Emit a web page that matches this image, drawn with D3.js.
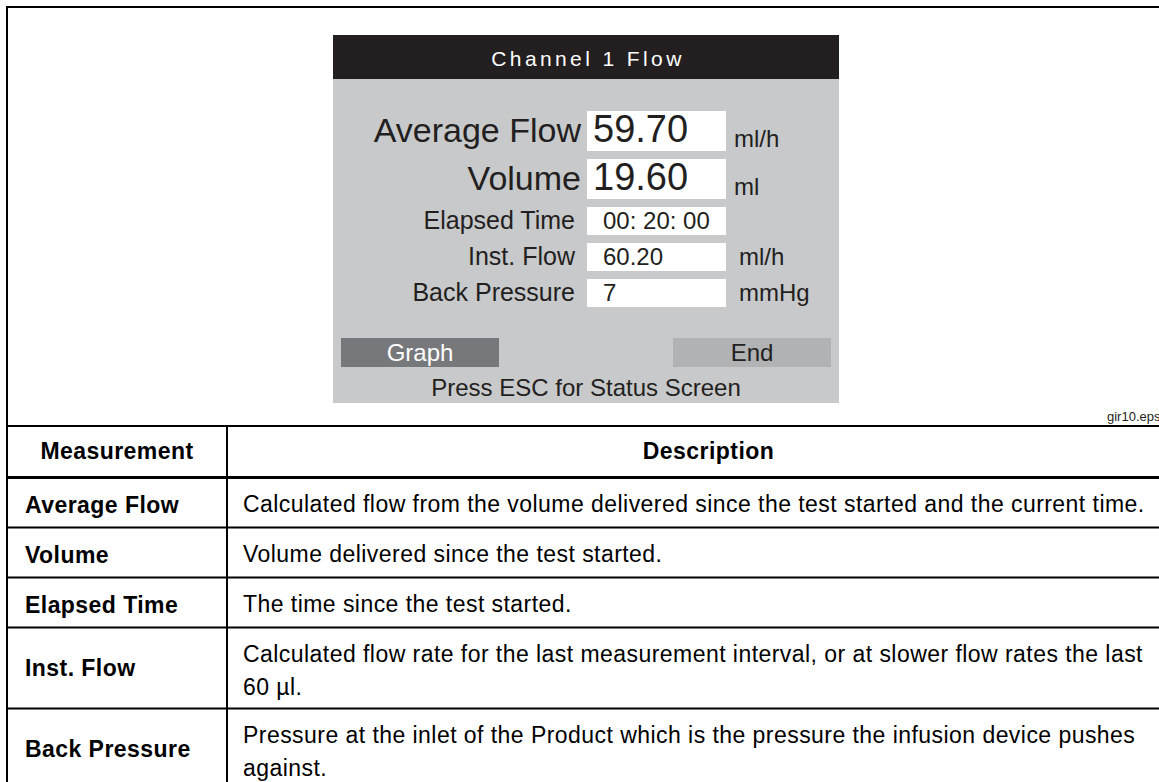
<!DOCTYPE html>
<html>
<head>
<meta charset="utf-8">
<script src="https://cdn.jsdelivr.net/npm/d3@7/dist/d3.min.js"></script>
<style>
  html, body { margin: 0; padding: 0; background: #fff; }
  svg { display: block; font-family: "Liberation Sans", Arial, Helvetica, sans-serif; }
</style>
</head>
<body>
<svg id="chart" width="1159" height="782"></svg>
<script>
// ---------- data ----------
const screenTitle = "Channel 1 Flow";
const fieldLabels = ["Average Flow", "Volume", "Elapsed Time", "Inst. Flow", "Back Pressure"];
const fieldValues = ["59.70", "19.60", "00: 20: 00", "60.20", "7"];
const fieldUnits  = ["ml/h", "ml", "", "ml/h", "mmHg"];
const fieldSizes  = ["big", "big", "small", "small", "small"];
const buttonLabels = ["Graph", "End"];
const footerText = "Press ESC for Status Screen";
const figureTag = "gir10.eps";
const tableHeaders = ["Measurement", "Description"];
const measurements = ["Average Flow", "Volume", "Elapsed Time", "Inst. Flow", "Back Pressure"];
const descriptions = [
  ["Calculated flow from the volume delivered since the test started and the current time."],
  ["Volume delivered since the test started."],
  ["The time since the test started."],
  ["Calculated flow rate for the last measurement interval, or at slower flow rates the last", "60 \u00b5l."],
  ["Pressure at the inlet of the Product which is the pressure the infusion device pushes", "against."]
];

// ---------- drawing ----------
const svg = d3.select("#chart");
const ink = "#231f20";

// outer frame
svg.append("path")
  .attr("d", "M7,800 V7 H1200")
  .attr("fill", "none").attr("stroke", "#000").attr("stroke-width", 2);

// ---- device screen ----
const scr = { x0: 333, x1: 839, y0: 35, y1: 403, headH: 44 };
const sx = d3.scaleLinear().domain([0, 1]).range([scr.x0, scr.x1]);
svg.append("rect").attr("x", scr.x0).attr("y", scr.y0)
  .attr("width", scr.x1 - scr.x0).attr("height", scr.y1 - scr.y0).attr("fill", "#c8c9cb");
svg.append("rect").attr("x", scr.x0).attr("y", scr.y0)
  .attr("width", scr.x1 - scr.x0).attr("height", scr.headH).attr("fill", ink);
svg.append("text").attr("x", sx(0.5) + 2).attr("y", 66)
  .attr("text-anchor", "middle").attr("fill", "#fff")
  .attr("font-size", 21).attr("letter-spacing", 3.4).text(screenTitle);

// field rows
const sizeH = d3.scaleOrdinal().domain(["big", "small"]).range([40, 28]);
const sizeGap = d3.scaleOrdinal().domain(["big", "small"]).range([8, 8]);
let tops = []; let yy = 111;
fieldSizes.forEach(s => { tops.push(yy); yy += sizeH(s) + sizeGap(s); });

const rows = svg.append("g").selectAll("g").data(fieldLabels).join("g");
rows.each(function (lab, i) {
  const g = d3.select(this);
  const big = fieldSizes[i] === "big";
  const top = tops[i], h = sizeH(fieldSizes[i]);
  g.append("rect").attr("x", 587).attr("y", top).attr("width", 139).attr("height", h).attr("fill", "#fff");
  g.append("text").attr("x", big ? 581 : 575).attr("y", big ? top + 31 : top + 22)
    .attr("text-anchor", "end").attr("fill", ink)
    .attr("font-size", big ? 34 : 25).text(lab);
  g.append("text").attr("x", big ? 593 : 603).attr("y", big ? top + 31 : top + 22)
    .attr("fill", ink).attr("font-size", big ? 38 : 24).text(fieldValues[i]);
  if (fieldUnits[i]) {
    g.append("text").attr("x", big ? 734 : 739).attr("y", big ? top + 36 : top + 22)
      .attr("fill", ink).attr("font-size", 24).text(fieldUnits[i]);
  }
});

// buttons
const btnColors = ["#77787b", "#b1b2b4"];
const btnText = ["#fff", ink];
const bx = d3.scalePoint().domain(buttonLabels).range([341, 673]);
const btn = svg.append("g").selectAll("g").data(buttonLabels).join("g");
btn.append("rect").attr("x", d => bx(d)).attr("y", 338).attr("width", 158).attr("height", 29)
  .attr("fill", (d, i) => btnColors[i]);
btn.append("text").attr("x", d => bx(d) + 79).attr("y", 361).attr("text-anchor", "middle")
  .attr("fill", (d, i) => btnText[i]).attr("font-size", 24).text(d => d);

svg.append("text").attr("x", sx(0.5)).attr("y", 396).attr("text-anchor", "middle")
  .attr("fill", ink).attr("font-size", 24).text(footerText);

svg.append("text").attr("x", 1107).attr("y", 421).attr("fill", "#231f20")
  .attr("font-size", 13).text(figureTag);

// ---- table ----
const tX0 = 7, tX1 = 1190, tColX = 227;
const headTop = 426, headH = 51.5;
const rowH = d3.scaleOrdinal().domain([1, 2]).range([50, 81]);
let rowTops = []; let ry = headTop + headH;
descriptions.forEach(d => { rowTops.push(ry); ry += rowH(d.length); });
const tBottom = ry;
const fs = 23, ls = 0.45;

const tg = svg.append("g");
tg.append("line").attr("x1", tX0).attr("x2", tX1).attr("y1", headTop).attr("y2", headTop)
  .attr("stroke", "#000").attr("stroke-width", 2);
tg.append("line").attr("x1", tX0).attr("x2", tX1).attr("y1", headTop + headH).attr("y2", headTop + headH)
  .attr("stroke", "#000").attr("stroke-width", 3);
tg.selectAll("line.row").data(descriptions).join("line").attr("class", "row")
  .attr("x1", tX0).attr("x2", tX1)
  .attr("y1", (d, i) => rowTops[i] + rowH(d.length)).attr("y2", (d, i) => rowTops[i] + rowH(d.length))
  .attr("stroke", "#000").attr("stroke-width", 2);
[tX0, tColX, tX1].forEach(x => tg.append("line").attr("x1", x).attr("x2", x)
  .attr("y1", headTop).attr("y2", tBottom).attr("stroke", "#000").attr("stroke-width", 2));

tg.append("text").attr("x", (tX0 + tColX) / 2).attr("y", headTop + 33).attr("text-anchor", "middle")
  .attr("font-weight", "bold").attr("font-size", fs).attr("letter-spacing", ls).text(tableHeaders[0]);
tg.append("text").attr("x", (tColX + tX1) / 2).attr("y", headTop + 33).attr("text-anchor", "middle")
  .attr("font-weight", "bold").attr("font-size", fs).attr("letter-spacing", ls).text(tableHeaders[1]);

measurements.forEach((m, i) => {
  const n = descriptions[i].length;
  tg.append("text").attr("x", 25).attr("y", rowTops[i] + (n === 1 ? 35 : 48))
    .attr("font-weight", "bold").attr("font-size", fs).attr("letter-spacing", ls).text(m);
  descriptions[i].forEach((line, j) => {
    tg.append("text").attr("x", 243).attr("y", rowTops[i] + 34 + j * 33)
      .attr("font-size", fs).attr("letter-spacing", ls).text(line);
  });
});
</script>
</body>
</html>
